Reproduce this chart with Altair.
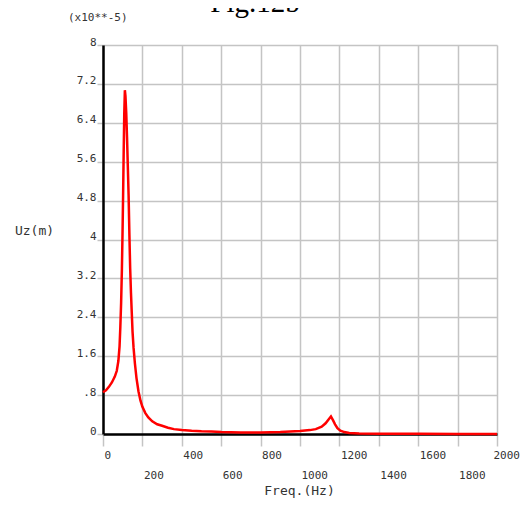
import altair as alt
import pandas as pd

# ---- data ----
freq = [0, 15, 30, 45, 60, 70, 78, 84, 88, 92, 96, 99, 102, 105, 108, 111,
        114, 118, 122, 126, 130, 134, 138, 142, 146, 150, 155, 162, 170, 180,
        190, 200, 215, 230, 250, 275, 300, 330, 360, 400, 450, 500, 550, 600,
        650, 700, 750, 800, 850, 900, 950, 1000, 1050, 1080, 1110, 1130, 1145,
        1157, 1168, 1178, 1190, 1205, 1225, 1250, 1300, 1400, 1600, 1800, 2000]
uz = [0.86, 0.9, 0.97, 1.06, 1.18, 1.3, 1.5, 1.8, 2.2, 2.7, 3.4, 4.1, 4.9, 5.8, 6.6, 7.07,
      6.95, 6.6, 6.1, 5.5, 4.9, 4.1, 3.4, 2.9, 2.5, 2.1, 1.78, 1.45, 1.15, 0.88,
      0.69, 0.56, 0.43, 0.34, 0.26, 0.2, 0.17, 0.13, 0.1, 0.08, 0.065, 0.055, 0.05, 0.04,
      0.035, 0.03, 0.03, 0.03, 0.035, 0.04, 0.05, 0.06, 0.08, 0.1, 0.15, 0.22, 0.3,
      0.36, 0.28, 0.2, 0.12, 0.07, 0.04, 0.02, 0.01, 0.005, 0.003, 0.002, 0.002]

x_ticks = [0, 200, 400, 600, 800, 1000, 1200, 1400, 1600, 1800, 2000]
y_ticks = [0, 0.8, 1.6, 2.4, 3.2, 4, 4.8, 5.6, 6.4, 7.2, 8]

fig_title = "Fig.12b"
scale_note = "(x10**-5)"
x_title = "Freq.(Hz)"
y_title = "Uz(m)"

df = pd.DataFrame({"freq": freq, "uz": uz})

MONO = "DejaVu Sans Mono"
GRID = "#c4c4c4"
TXT = "#333333"

line = alt.Chart(df).mark_line(color="#ff0000", strokeWidth=2.5, clip=False).encode(
    x=alt.X(
        "freq:Q",
        scale=alt.Scale(domain=[0, 2000], nice=False, zero=False),
        axis=alt.Axis(
            values=x_ticks, format="d", grid=True, gridColor=GRID, gridWidth=1.5,
            tickColor=GRID, tickSize=12, tickWidth=1.5,
            domainColor="black", domainWidth=2.5,
            labelExpr="datum.value % 400 == 0 ? datum.label : ['', datum.label]",
            labelAlign="left", labelBaseline="top", labelLineHeight=20,
            labelFlush=False, labelOverlap=False, labelPadding=3,
            labelOffset={"condition": {"test": "datum.value == 2000", "value": -4}, "value": 1},
            labelFont=MONO, labelFontSize=11, labelColor=TXT,
            title=x_title, titleFont=MONO, titleFontSize=13, titleFontWeight="normal",
            titleColor=TXT, titleY=56, titleBaseline="middle", titleX=196,
        ),
    ),
    y=alt.Y(
        "uz:Q",
        scale=alt.Scale(domain=[0, 8], nice=False),
        axis=alt.Axis(
            values=y_ticks, grid=True, gridColor=GRID, gridWidth=1.5,
            tickColor=GRID, tickSize=6, tickWidth=1.5,
            domainColor="black", domainWidth=2.5,
            labelExpr="format(datum.value, '.1~f') == '0.8' ? '.8' : format(datum.value, '.1~f')",
            labelBaseline="alphabetic", labelPadding=1, labelFlush=False, labelOverlap=False,
            labelFont=MONO, labelFontSize=11, labelColor=TXT,
            title=y_title, titleFont=MONO, titleFontSize=13, titleFontWeight="normal",
            titleColor=TXT, titleAngle=0, titleX=-69, titleY=185,
            titleAlign="center", titleBaseline="middle",
        ),
    ),
)

note = alt.Chart(pd.DataFrame({"t": [scale_note]})).mark_text(
    font=MONO, fontSize=11, color=TXT, align="left", baseline="middle"
).encode(text="t:N", x=alt.value(-35), y=alt.value(-27))

title_mark = alt.Chart(pd.DataFrame({"t": [fig_title]})).mark_text(
    font="Liberation Serif", fontSize=29, color="black", align="center", baseline="alphabetic"
).encode(text="t:N", x=alt.value(152), y=alt.value(-33))

chart = alt.layer(line, note, title_mark).properties(
    width=394, height=389,
    autosize=alt.AutoSizeParams(type="none"),
    padding={"left": 95, "top": 37, "right": 24, "bottom": 64},
).configure_view(strokeWidth=0)

chart.save("out.html", embed_options={"renderer": "svg", "actions": False})
